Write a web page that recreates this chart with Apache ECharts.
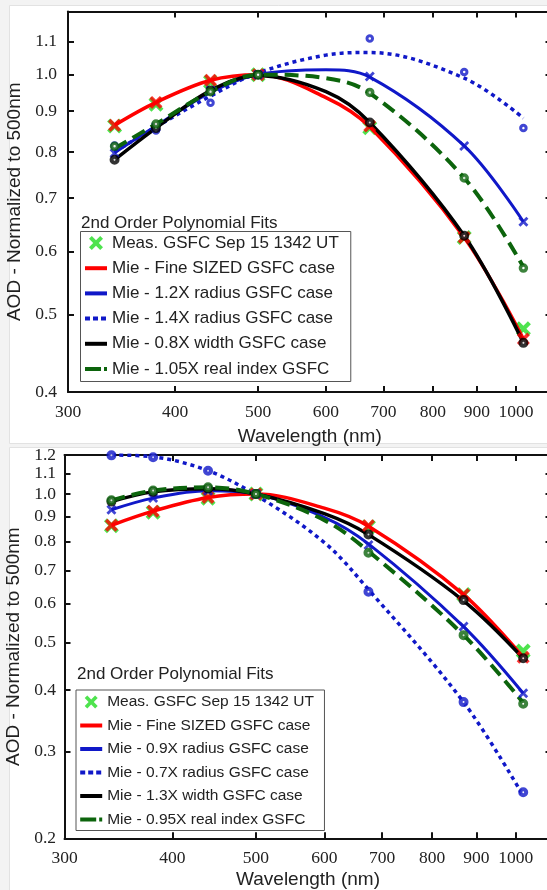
<!DOCTYPE html>
<html>
<head>
<meta charset="utf-8">
<script src="https://cdn.jsdelivr.net/npm/echarts@6/dist/echarts.min.js"></script>
<style>
  html, body { margin: 0; padding: 0; background: #f3f3f3; }
  #chart { width: 547px; height: 890px; }
</style>
</head>
<body>
<div id="chart"></div>
<script>
// Wavelengths (nm) of the sun-photometer channels and of the sampled fit curves
const wavelengths = [340, 380, 440, 500, 675, 870, 1020];
const fitWavelengths = [340, 380, 440, 500, 600, 675, 870, 1020];

// Axis ticks
const xTicks = [300, 400, 500, 600, 700, 800, 900, 1000];
const yLabelsTop = [0.4, 0.5, 0.6, 0.7, 0.8, 0.9, 1.0, 1.1];
const yTicksTop = [0.4, 0.5, 0.6, 0.7, 0.8, 0.9, 1.0, 1.1, 1.2];
const yLabelsBottom = [0.2, 0.3, 0.4, 0.5, 0.6, 0.7, 0.8, 0.9, 1.0, 1.1, 1.2];

// Measured AOD normalized to 500 nm (both panels)
const measured = [0.862, 0.918, 0.98, 1.0, 0.858, 0.625, 0.48];

// Fine SIZED case (both panels)
const fineSized = [0.864, 0.923, 0.984, 1.0, 0.862, 0.625, 0.466];
const fineSizedFit = [0.864, 0.923, 0.984, 1.0, 0.936, 0.86, 0.625, 0.466];

// Upper panel cases
const radius12 = [0.797, 0.86, 0.955, 1.0, 0.995, 0.814, 0.654];
const radius12Fit = [0.798, 0.862, 0.95, 1.0, 1.014, 0.993, 0.814, 0.654];
const radius14 = [0.815, 0.851, 0.922, 1.0, 1.11, 1.008, 0.857];
const radius14Fit = [0.80, 0.86, 0.94, 1.005, 1.058, 1.066, 0.99, 0.882];
const width08 = [0.782, 0.857, 0.955, 1.0, 0.871, 0.628, 0.461];
const width08Fit = [0.782, 0.857, 0.955, 0.997, 0.952, 0.871, 0.628, 0.461];
const index105 = [0.813, 0.867, 0.952, 1.0, 0.95, 0.742, 0.572];
const index105Fit = [0.808, 0.867, 0.952, 1.0, 0.99, 0.948, 0.742, 0.574];

// Lower panel cases
const radius09 = [0.929, 0.981, 1.015, 1.0, 0.788, 0.538, 0.394];
const radius09Fit = [0.929, 0.981, 1.015, 1.0, 0.897, 0.792, 0.538, 0.394];
const radius07 = [1.198, 1.187, 1.115, 1.0, 0.633, 0.378, 0.248];
const radius07Fit = [1.2, 1.19, 1.115, 0.995, 0.797, 0.64, 0.378, 0.244];
const width13 = [0.965, 1.01, 1.025, 1.0, 0.828, 0.609, 0.464];
const width13Fit = [0.965, 1.01, 1.025, 1.0, 0.912, 0.827, 0.607, 0.464];
const index095 = [0.971, 1.016, 1.032, 1.0, 0.76, 0.517, 0.375];
const index095Fit = [0.971, 1.016, 1.032, 1.0, 0.885, 0.765, 0.517, 0.377];

const NAMES = {
  meas: 'Meas. GSFC Sep 15 1342 UT',
  fine: 'Mie - Fine SIZED GSFC case',
  r12: 'Mie - 1.2X radius GSFC case',
  r14: 'Mie - 1.4X radius GSFC case',
  w08: 'Mie - 0.8X width GSFC case',
  n105: 'Mie - 1.05X real index GSFC',
  r09: 'Mie - 0.9X radius GSFC case',
  r07: 'Mie - 0.7X radius GSFC case',
  w13: 'Mie - 1.3X width GSFC case',
  n095: 'Mie - 0.95X real index GSFC'
};

const C = {
  meas: '#22dc22',
  red: '#ff0000',
  blue: '#1018c8',
  black: '#000000',
  green: '#0c640c',
  axis: '#111111',
  text: '#222222'
};

const SANS = "'Liberation Sans', Arial, sans-serif";
const SERIF = "'Liberation Serif', 'Times New Roman', serif";

// Filled "x" marker
const X_PATH = 'path://M0,2L2,0L5,3L8,0L10,2L7,5L10,8L8,10L5,7L2,10L0,8L3,5Z';

// Legend icons drawn inside a w x h box
function iconLine(w, h, t) {
  const y = (h - t) / 2;
  return `path://M0,0M${w},${h}M0,${y}h${w}v${t}h-${w}z`;
}
function iconDotted(w, h, t) {
  const y = (h - t) / 2;
  return `path://M0,0M${w},${h}M0,${y}h5v${t}h-5zM8,${y}h5v${t}h-5zM16,${y}h5v${t}h-5z`;
}
function iconDashed(w, h, t) {
  const y = (h - t) / 2;
  return `path://M0,0M${w},${h}M0,${y}h16v${t}h-16zM19,${y}h3v${t}h-3z`;
}
function iconX(w, h) {
  const s = h, x0 = (w - s) / 2, k = s / 10;
  const p = [[0,2],[2,0],[5,3],[8,0],[10,2],[7,5],[10,8],[8,10],[5,7],[2,10],[0,8],[3,5]]
    .map(([a, b]) => `${(x0 + a * k).toFixed(2)},${(b * k).toFixed(2)}`);
  return `path://M0,0M${w},${h}M${p.join('L')}Z`;
}

// Axis indices per panel: [xAxisIndex, yAxisIndex]
const UPPER = [0, 0];
const LOWER = [3, 2];

function fitLine(name, values, color, type, width, ax) {
  return {
    type: 'line', name, xAxisIndex: ax[0], yAxisIndex: ax[1],
    data: fitWavelengths.map((w, i) => [w, values[i]]),
    symbol: 'none', showSymbol: false,
    smooth: 0.35,
    color,
    itemStyle: { color },
    lineStyle: { color, width, type, cap: 'butt' },
    z: 3, silent: true
  };
}

// kind 'x' = filled cross, 'o' = thick ring
function markers(name, values, kind, size, color, ax, ring, z) {
  const item = kind === 'x'
    ? { color, borderWidth: 0 }
    : { color: '#ffffff', borderColor: color, borderWidth: ring };
  return {
    type: 'scatter', name, xAxisIndex: ax[0], yAxisIndex: ax[1],
    data: wavelengths.map((w, i) => [w, values[i]]),
    symbol: kind === 'x' ? X_PATH : 'circle',
    symbolSize: size,
    itemStyle: item,
    z: z || 4, silent: true
  };
}

const TICK_STYLE = { color: C.axis, width: 2 };

// Per panel: labelled bottom axis, top frame axis with ticks, bottom tick axis
function xAxes(gridIndex, nameGap) {
  const base = {
    type: 'log', logBase: 10, gridIndex, min: 300, max: 1100,
    splitLine: { show: false }, minorTick: { show: false }
  };
  const ticks = { show: true, inside: true, length: 6, customValues: xTicks, lineStyle: TICK_STYLE };
  return [
    Object.assign({}, base, {
      position: 'bottom',
      axisLine: { show: true, onZero: false, lineStyle: { color: C.axis, width: 2 } },
      axisTick: { show: false },
      name: 'Wavelength (nm)', nameLocation: 'middle', nameGap,
      nameTextStyle: { fontFamily: SANS, fontSize: 19, color: C.text },
      axisLabel: { show: true, customValues: xTicks, margin: 11,
        fontFamily: SERIF, fontSize: 17.5, color: C.text,
        formatter: v => String(Math.round(v)) }
    }),
    Object.assign({}, base, {
      position: 'top',
      axisLine: { show: true, onZero: false, lineStyle: { color: C.axis, width: 2 } },
      axisTick: ticks, axisLabel: { show: false }
    }),
    Object.assign({}, base, {
      position: 'bottom',
      axisLine: { show: false, onZero: false },
      axisTick: ticks, axisLabel: { show: false }
    })
  ];
}

function yAxes(gridIndex, min, max, labels, ticks, nameGap, margin) {
  const common = {
    type: 'log', logBase: 10, gridIndex, min, max,
    splitLine: { show: false }, minorTick: { show: false },
    axisLine: { show: true, onZero: false, lineStyle: { color: C.axis, width: 2 } },
    axisTick: { show: true, inside: true, length: 6, customValues: ticks, lineStyle: TICK_STYLE }
  };
  return [
    Object.assign({}, common, {
      position: 'left',
      name: 'AOD - Normalized to 500nm', nameLocation: 'middle', nameGap, nameRotate: 90,
      nameTextStyle: { fontFamily: SANS, fontSize: 19, color: C.text },
      axisLabel: { show: true, customValues: labels, margin,
        fontFamily: SERIF, fontSize: 17.5, color: C.text,
        formatter: v => Number(v).toFixed(1) }
    }),
    Object.assign({}, common, { position: 'right', axisLabel: { show: false } })
  ];
}

function legendFor(entries, left, top, w, h, fontSize, gap, padding) {
  return {
    orient: 'vertical', left, top, padding,
    itemWidth: w, itemHeight: h, itemGap: gap,
    borderColor: '#555555', borderWidth: 1, backgroundColor: '#ffffff',
    selectedMode: false,
    textStyle: { fontFamily: SANS, fontSize, color: C.text },
    data: entries.map(([name, style, color]) => ({
      name,
      icon: style === 'x' ? iconX(w, h) :
            style === 'dotted' ? iconDotted(w, h, 4) :
            style === 'dashed' ? iconDashed(w, h, 4) : iconLine(w, h, 4),
      itemStyle: { color, borderWidth: 0 }
    }))
  };
}

const chart = echarts.init(document.getElementById('chart'), null, { renderer: 'canvas' });

const option = {
  animation: false,
  backgroundColor: '#f3f3f3',
  graphic: [
    { type: 'rect', z: -10, silent: true,
      shape: { x: 9.5, y: 5.5, width: 560, height: 438 },
      style: { fill: '#ffffff', stroke: '#e2e2e2', lineWidth: 1 } },
    { type: 'rect', z: -10, silent: true,
      shape: { x: 9.5, y: 447.5, width: 560, height: 460 },
      style: { fill: '#ffffff', stroke: '#e2e2e2', lineWidth: 1 } }
  ],
  title: [
    { text: '2nd Order Polynomial Fits', left: 81, top: 214.5, padding: 0,
      textStyle: { fontFamily: SANS, fontSize: 17, fontWeight: 'normal', color: C.text } },
    { text: '2nd Order Polynomial Fits', left: 77, top: 665.5, padding: 0,
      textStyle: { fontFamily: SANS, fontSize: 17, fontWeight: 'normal', color: C.text } }
  ],
  grid: [
    { left: 68, top: 11.5, width: 483.5, height: 380.5, outerBoundsMode: 'none', containLabel: false },
    { left: 64.5, top: 455, width: 487, height: 383.3, outerBoundsMode: 'none', containLabel: false }
  ],
  xAxis: [...xAxes(0, 35), ...xAxes(1, 31.5)],
  yAxis: [
    ...yAxes(0, 0.4, 1.2, yLabelsTop, yTicksTop, 30, 11),
    ...yAxes(1, 0.2, 1.2, yLabelsBottom, yLabelsBottom, 27, 8.5)
  ],
  legend: [
    legendFor([
      [NAMES.meas, 'x', C.meas],
      [NAMES.fine, 'solid', C.red],
      [NAMES.r12, 'solid', C.blue],
      [NAMES.r14, 'dotted', C.blue],
      [NAMES.w08, 'solid', C.black],
      [NAMES.n105, 'dashed', C.green]
    ], 80.5, 231.5, 22, 14, 17, 8.2, [3, 12, 4, 4.5]),
    legendFor([
      [NAMES.meas, 'x', C.meas],
      [NAMES.fine, 'solid', C.red],
      [NAMES.r09, 'solid', C.blue],
      [NAMES.r07, 'dotted', C.blue],
      [NAMES.w13, 'solid', C.black],
      [NAMES.n095, 'dashed', C.green]
    ], 76, 690, 22, 13, 15.5, 7.5, [4, 10.5, 3, 4.2])
  ],
  series: [
    // upper panel
    markers(NAMES.meas, measured, 'x', 15, C.meas, UPPER, 0, 2),
    fitLine(NAMES.fine, fineSizedFit, C.red, 'solid', 3.5, UPPER),
    fitLine(NAMES.r12, radius12Fit, C.blue, 'solid', 3, UPPER),
    fitLine(NAMES.r14, radius14Fit, C.blue, [4, 4], 3.5, UPPER),
    fitLine(NAMES.w08, width08Fit, C.black, 'solid', 3.5, UPPER),
    fitLine(NAMES.n105, index105Fit, C.green, [14, 7], 4, UPPER),
    markers('fine sized points', fineSized, 'x', 13, C.red, UPPER),
    markers('1.2x radius points', radius12, 'x', 10, C.blue, UPPER),
    markers('1.4x radius points', radius14, 'o', 5.5, C.blue, UPPER, 3),
    markers('0.8x width points', width08, 'o', 6, C.black, UPPER, 4),
    markers('1.05x index points', index105, 'o', 6, C.green, UPPER, 3.5),
    // lower panel
    markers(NAMES.meas, measured, 'x', 15, C.meas, LOWER, 0, 2),
    fitLine(NAMES.fine, fineSizedFit, C.red, 'solid', 3.5, LOWER),
    fitLine(NAMES.r09, radius09Fit, C.blue, 'solid', 3, LOWER),
    fitLine(NAMES.r07, radius07Fit, C.blue, [4, 4], 3.5, LOWER),
    fitLine(NAMES.w13, width13Fit, C.black, 'solid', 3.5, LOWER),
    fitLine(NAMES.n095, index095Fit, C.green, [14, 7], 4, LOWER),
    markers('fine sized points ', fineSized, 'x', 13, C.red, LOWER),
    markers('0.9x radius points', radius09, 'x', 10, C.blue, LOWER),
    markers('0.7x radius points', radius07, 'o', 6, C.blue, LOWER, 4),
    markers('1.3x width points', width13, 'o', 6, C.black, LOWER, 4),
    markers('0.95x index points', index095, 'o', 6, C.green, LOWER, 4)
  ]
};

chart.setOption(option);
</script>
</body>
</html>
